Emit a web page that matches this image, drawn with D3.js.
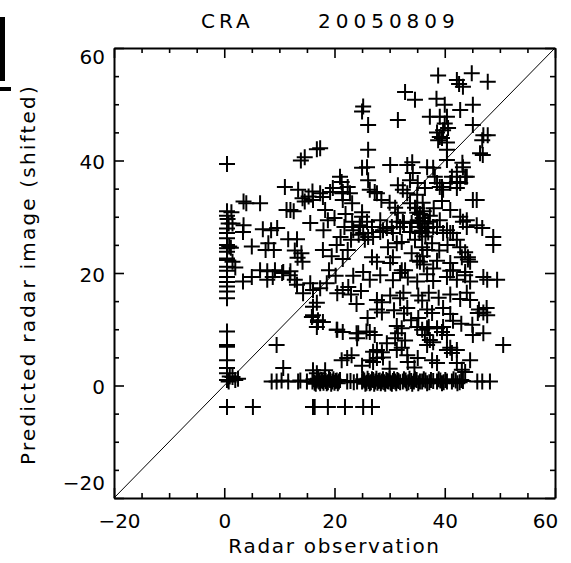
<!DOCTYPE html>
<html>
<head>
<meta charset="utf-8">
<script src="https://cdn.jsdelivr.net/npm/d3@7"></script>
<style>
  body { margin: 0; background: #fff; }
  text { font-family: 'DejaVu Sans', sans-serif; fill: #000; }
</style>
</head>
<body>
<svg id="chart" width="571" height="563"></svg>
<script>
// [radar observation, predicted (shifted)], grouped by area
let leftColumn = [
  [0.5,39.4],[0.5,31.0],[0.5,30.2],[0.6,29.6],[0.8,28.8],[0.5,27.9],[0.5,27.1],[0.5,26.2],[0.5,25.0],
  [0.9,24.7],[1.2,24.5],[0.5,24.4],[0.5,23.8],[0.5,22.6],[0.5,22.3],[0.5,21.1],[0.5,20.4],[0.5,19.3],
  [0.5,18.4],[0.5,17.6],[0.5,16.7],[0.5,15.5],[0.5,9.6],[0.5,7.2],[0.5,6.9],[0.5,4.5],[0.5,3.1],
  [0.5,2.2],[1.0,1.6],[0.5,1.0],[1.5,1.5],[2.0,1.0],[0.8,0.7],[2.5,1.2],[1.5,28.8],[3.5,32.7],
  [3.5,28.5],[3.4,27.3],[5.0,24.7],[3.4,18.5],[1.5,22.0],[1.3,30.8],[2.0,21.0]
]
let midLeft = [
  [4.0,32.4],[6.5,32.4],[11.0,35.3],[13.4,34.8],[13.9,40.0],[16.8,42.0],[11.3,31.2],[12.0,31.2],[12.6,31.0],
  [14.6,32.7],[14.2,33.3],[15.3,33.6],[16.0,34.5],[17.4,34.2],[18.3,31.2],[15.6,28.9],[7.0,27.8],[8.5,27.6],
  [9.6,28.0],[11.6,26.0],[13.2,26.0],[12.8,24.0],[14.0,23.5],[13.3,22.7],[14.2,22.0],[17.9,24.1],[18.0,27.6],
  [18.8,29.4],[20.0,29.8],[21.3,36.2],[8.0,25.3],[7.5,24.1],[9.0,24.1],[6.5,20.5],[7.8,20.3],[9.2,20.5],
  [10.5,20.0],[12.0,20.3],[5.0,19.3],[7.8,18.8],[8.8,19.3],[10.7,20.2],[11.9,19.6],[12.8,18.8],[13.2,17.9],
  [15.6,18.2],[16.1,17.0],[17.4,17.3],[18.6,18.2],[14.3,16.4],[16.8,14.7],[16.1,12.5],[17.0,11.6],[17.9,11.3],
  [16.8,10.4],[20.5,16.4],[21.5,17.0],[20.5,9.9],[21.5,9.5],[21.0,37.1],[22.4,35.3],[21.4,34.2],[19.7,35.1],
  [19.2,34.4],[17.9,33.5],[16.1,33.0],[21.5,33.0],[22.0,30.5],[21.8,28.2],[21.1,26.4],[20.4,25.0],[19.5,23.0],
  [21.5,22.5],[22.4,24.1],[19.0,20.5],[20.2,19.5],[17.4,42.2],[14.6,40.6]
]
let topCluster = [
  [38.8,55.1],[44.9,55.5],[42.2,54.3],[43.3,53.1],[47.8,54.0],[42.6,53.6],[32.8,52.2],[34.6,50.8],[25.2,49.6],
  [25.0,48.7],[26.1,46.3],[31.5,47.2],[38.5,51.0],[40.0,49.9],[39.1,47.8],[37.3,47.8],[40.4,47.8],[40.0,46.6],
  [42.8,49.0],[45.1,49.9],[45.1,46.3],[38.6,45.0],[39.5,44.0],[40.4,43.2],[39.1,44.2],[38.8,43.6],[39.7,45.4],
  [40.6,45.8],[47.0,44.5],[46.8,43.6],[47.8,44.5],[46.9,41.0],[46.4,41.3],[40.4,41.9],[26.1,41.9],[40.4,40.1],
  [43.2,39.6]
]
let upperMid = [
  [25.0,38.7],[25.9,38.8],[26.1,36.5],[26.4,34.8],[27.3,34.4],[27.7,34.2],[30.1,39.2],[33.2,39.2],[34.1,39.7],
  [34.2,37.8],[33.7,36.5],[36.8,38.8],[37.9,38.7],[38.2,37.1],[38.6,36.0],[39.1,35.3],[41.3,37.1],[42.2,38.0],
  [43.3,38.8],[44.0,37.1],[42.8,36.0],[42.2,35.1],[39.7,34.8],[35.1,36.0],[36.4,35.1],[35.0,33.9],[31.5,35.6],
  [32.4,34.8],[33.2,34.2],[45.1,33.0],[45.8,33.0],[21.5,34.4],[22.8,34.2],[25.0,30.0],[25.9,29.1],[26.8,28.2],
  [28.3,27.3],[24.6,28.2],[31.0,31.6],[31.5,30.7],[33.7,32.4],[34.6,31.6],[35.0,30.7],[35.1,29.4],[35.5,28.2],
  [35.9,27.3],[32.4,29.1],[31.9,28.2],[37.0,29.1],[37.9,28.2],[39.1,29.4],[40.4,27.6],[41.5,27.1],[43.3,29.1],
  [44.0,28.2],[28.3,29.4],[29.5,28.0],[30.6,27.1],[23.2,32.4],[25.0,30.8],[39.5,35.3],[41.0,36.0],[42.2,36.2],
  [43.7,37.1],[41.0,31.2],[42.8,30.0],[44.0,29.4],[45.8,28.5],[46.8,28.0],[48.8,26.4],[28.5,33.0],[30.0,32.5],
  [36.0,32.5],[38.0,31.5],[39.5,32.8]
]
let midRight = [
  [23.2,29.1],[24.6,28.5],[23.4,27.6],[25.2,27.1],[25.5,25.9],[27.0,26.4],[28.8,27.6],[30.4,28.2],[35.0,31.5],
  [35.5,30.5],[36.0,29.8],[36.4,28.8],[36.8,28.0],[35.8,27.5],[37.3,30.2],[36.2,31.0],[35.2,29.2],[37.0,27.2],
  [36.5,26.5],[31.3,29.1],[32.6,28.9],[34.0,28.9],[33.7,27.3],[35.4,27.1],[38.6,28.2],[39.7,27.1],[41.0,27.1],
  [42.2,25.9],[42.8,24.6],[43.7,23.7],[44.2,22.8],[44.6,22.0],[29.7,24.6],[31.3,25.3],[32.2,25.5],[34.6,25.9],
  [35.9,24.6],[36.8,24.1],[37.7,25.3],[23.0,25.9],[24.4,26.8],[26.1,26.4],[26.8,22.8],[27.7,22.0],[30.1,21.8],
  [30.6,22.8],[32.2,20.5],[32.8,20.5],[35.0,22.2],[35.5,22.0],[37.9,20.8],[38.6,22.2],[41.0,21.8],[41.5,20.5],
  [43.7,20.2],[43.1,22.8],[44.2,22.4],[48.8,25.0],[36.0,23.0],[36.2,21.5],[34.0,23.5],[39.0,24.0],[40.5,25.0]
]
let lowerMid = [
  [23.4,19.5],[25.2,20.2],[26.4,18.8],[28.3,19.6],[30.6,18.7],[31.9,20.0],[33.3,19.2],[35.0,18.5],[36.8,19.8],
  [37.9,18.6],[40.4,19.3],[41.0,20.4],[42.2,18.8],[43.7,19.6],[44.6,18.5],[47.7,18.8],[49.5,18.8],[47.0,19.3],
  [23.0,16.2],[24.8,16.8],[27.7,15.2],[28.6,14.8],[30.1,16.0],[31.9,15.5],[32.5,16.5],[35.2,16.0],[35.9,15.1],
  [37.1,16.5],[38.9,15.6],[41.0,16.2],[42.8,15.4],[44.0,16.5],[44.6,15.2],[27.7,13.5],[28.6,13.0],[30.8,13.4],
  [32.6,12.8],[33.2,13.8],[36.8,13.5],[37.7,12.9],[39.7,13.8],[41.0,12.7],[47.0,13.0],[47.7,12.5],[46.0,12.9],
  [31.3,10.6],[32.2,10.2],[35.0,10.4],[35.9,9.9],[36.8,10.2],[39.7,10.4],[41.5,11.5],[43.0,11.0],[45.0,10.8],
  [47.6,13.8],[46.2,13.5],[22.5,17.5],[24.0,14.5],[26.0,12.0],[33.9,11.6],[35.2,12.0],[37.1,10.4],[38.6,10.2]
]
let lowRegion = [
  [26.4,9.5],[27.3,9.0],[24.3,9.3],[24.1,8.4],[31.5,9.3],[31.0,8.4],[32.8,8.0],[36.4,9.0],[37.3,8.1],
  [37.9,7.7],[39.5,9.5],[40.4,9.0],[36.8,7.2],[41.0,6.7],[42.2,6.3],[44.6,4.5],[45.1,9.0],[47.0,9.3],
  [50.6,7.2],[27.7,6.3],[28.6,5.9],[28.8,5.0],[27.7,4.9],[26.4,4.5],[27.0,4.2],[31.3,6.3],[32.2,6.7],
  [33.2,5.4],[33.3,4.2],[35.1,4.9],[37.7,4.5],[38.6,4.0],[40.4,6.3],[41.3,5.8],[42.2,4.0],[43.1,2.8],
  [43.7,2.4],[22.3,4.9],[21.3,4.5],[23.1,5.4],[27.0,6.0],[25.8,9.6],[20.4,9.9],[24.0,9.3],[15.9,12.2],
  [17.0,11.3],[16.1,14.0],[10.7,3.1],[16.1,2.7],[16.8,2.2],[18.3,2.7],[9.5,7.2],[30.0,3.0],[34.5,3.2],
  [29.5,7.5],[25.0,3.5]
]
let zeroRow = [
  [8.6,0.7],[9.5,0.7],[10.4,0.9],[11.6,0.7],[13.4,0.7],[13.8,0.9],[15.0,0.7],
  [16.0,0.7],[16.2,1.1],[16.4,0.5],[16.6,0.3],[16.8,0.9],[17.0,1.2],[17.2,0.7],[17.4,0.4],[17.6,1.0],
  [17.8,0.8],[18.0,0.5],[18.2,1.1],[18.4,0.8],[18.6,0.4],[18.8,0.6],[19.0,1.2],[19.2,1.0],[19.4,0.3],
  [19.6,0.7],[19.8,1.1],[20.0,0.5],[20.2,0.8],[20.4,0.9],[20.6,0.4],[20.8,0.7],[21.0,1.0],
  [22.3,0.7],[22.9,0.8],[23.5,0.6],[24.1,0.7],
  [25.0,0.7],[25.2,1.1],[25.4,0.9],[25.6,0.3],[25.8,0.5],[26.0,1.2],[26.2,0.8],[26.4,0.4],[26.6,0.6],
  [26.8,1.1],[27.0,1.0],[27.2,0.3],[27.4,0.7],[27.6,1.2],[27.8,0.5],[28.0,0.8],[28.2,0.9],[28.4,0.4],
  [28.6,0.7],[28.8,1.1],[29.0,0.6],[29.2,0.3],[29.4,1.0],[29.6,0.8],[29.8,0.7],[30.0,1.2],[30.2,0.5],
  [30.4,0.3],[30.6,0.8],[30.8,1.1],[31.0,0.7],[31.2,0.4],[31.4,1.0],[31.6,0.8],[31.9,0.6],
  [32.4,0.7],[32.6,1.1],[32.9,0.9],[33.1,0.4],[33.4,0.6],[33.6,1.2],[33.9,0.8],[34.1,0.3],[34.4,0.7],
  [34.6,1.1],[34.9,1.0],[35.2,0.4],[35.5,0.7],[35.9,0.7],[36.2,1.1],[36.5,0.9],[36.8,0.4],[37.2,0.6],
  [37.5,1.0],[37.9,0.8],[38.6,0.7],[38.9,1.1],[39.2,0.9],[39.5,0.4],[39.8,0.6],[40.1,1.0],[40.4,0.7],
  [41.3,0.7],[41.6,1.1],[42.0,0.9],[42.3,0.4],[42.7,0.6],[43.0,1.0],[43.3,0.8],
  [45.9,0.7],[46.8,0.7],[48.2,0.7]
]
let minusRow = [
  [0.5,-3.8],[5.2,-3.8],[16.1,-3.8],[16.4,-3.8],[18.8,-3.8],[21.9,-3.8],[25.2,-3.8],[26.8,-3.8]
]

let majorTicks = [-20, 0, 20, 40, 60]
let minorTicks = [-15, -10, -5, 5, 10, 15, 25, 30, 35, 45, 50, 55]
let domain = [-20, 60]

let points = [].concat(leftColumn, midLeft, topCluster, upperMid, midRight, lowerMid, lowRegion, zeroRow, minusRow)

let svg = d3.select('#chart')
svg.append('rect').attr('width', 571).attr('height', 563).attr('fill', '#fff')

// stray bracket left over at the top-left corner of the original image
svg.append('rect').attr('x', 0).attr('y', 17).attr('width', 5).attr('height', 64).attr('fill', '#000')
svg.append('rect').attr('x', 0).attr('y', 87).attr('width', 11).attr('height', 4).attr('fill', '#000')

let x = d3.scaleLinear().domain(domain).range([114, 555])
let y = d3.scaleLinear().domain(domain).range([498, 48])

let fmt = d3.format('d')

let drawAxis = (axisFn, scale, transform, showLabels) => {
  let major = svg.append('g')
    .attr('transform', transform)
    .call(axisFn(scale).tickValues(majorTicks).tickSizeInner(-10).tickSizeOuter(0)
      .tickPadding(showLabels ? (axisFn == d3.axisBottom ? 16 : 9) : 0)
      .tickFormat(showLabels ? fmt : ''))
  let minor = svg.append('g')
    .attr('transform', transform)
    .call(axisFn(scale).tickValues(minorTicks).tickSizeInner(-5).tickSizeOuter(0).tickFormat(''))
  minor.select('.domain').remove()
  major.select('.domain').attr('stroke-width', 2)
  svg.selectAll('.tick line').attr('stroke-width', 1.6)
  major.selectAll('text').attr('font-size', 20).attr('font-family', "'DejaVu Sans', sans-serif")
  return major
}

let bottomAxis = drawAxis(d3.axisBottom, x, 'translate(0,498)', true)
drawAxis(d3.axisTop, x, 'translate(0,48)', false)
let leftAxis = drawAxis(d3.axisLeft, y, 'translate(114,0)', true)
drawAxis(d3.axisRight, y, 'translate(555,0)', false)

// end labels are pulled inside the frame, like the original
bottomAxis.selectAll('text').attr('dx', (d) => d == -20 ? 5 : d == 60 ? -10 : 0)
leftAxis.selectAll('text').attr('dy', (d) => d == 60 ? '0.78em' : d == -20 ? '-0.45em' : '0.4em')

// one-to-one line
svg.append('line')
  .attr('x1', x(-20)).attr('y1', y(-20))
  .attr('x2', x(60)).attr('y2', y(60))
  .attr('stroke', '#000').attr('stroke-width', 1)

svg.append('g')
  .selectAll('path')
  .data(points)
  .enter()
  .append('path')
  .attr('d', 'M-8,0H8M0,-8V8')
  .attr('transform', (d) => `translate(${x(d[0])},${y(d[1])})`)
  .attr('stroke', '#000')
  .attr('stroke-width', 2)
  .attr('fill', 'none')

svg.append('text')
  .attr('x', 201).attr('y', 28)
  .attr('font-size', 20).attr('letter-spacing', 4)
  .text('CRA')
svg.append('text')
  .attr('x', 318).attr('y', 28)
  .attr('font-size', 20).attr('letter-spacing', 5)
  .text('20050809')

svg.append('text')
  .attr('x', 334.5).attr('y', 553)
  .attr('text-anchor', 'middle')
  .attr('font-size', 20).attr('letter-spacing', 1.7)
  .text('Radar observation')

svg.append('text')
  .attr('transform', 'translate(35,274.5) rotate(-90)')
  .attr('text-anchor', 'middle')
  .attr('font-size', 20).attr('letter-spacing', 2.2)
  .text('Predicted radar image (shifted)')
</script>
</body>
</html>
